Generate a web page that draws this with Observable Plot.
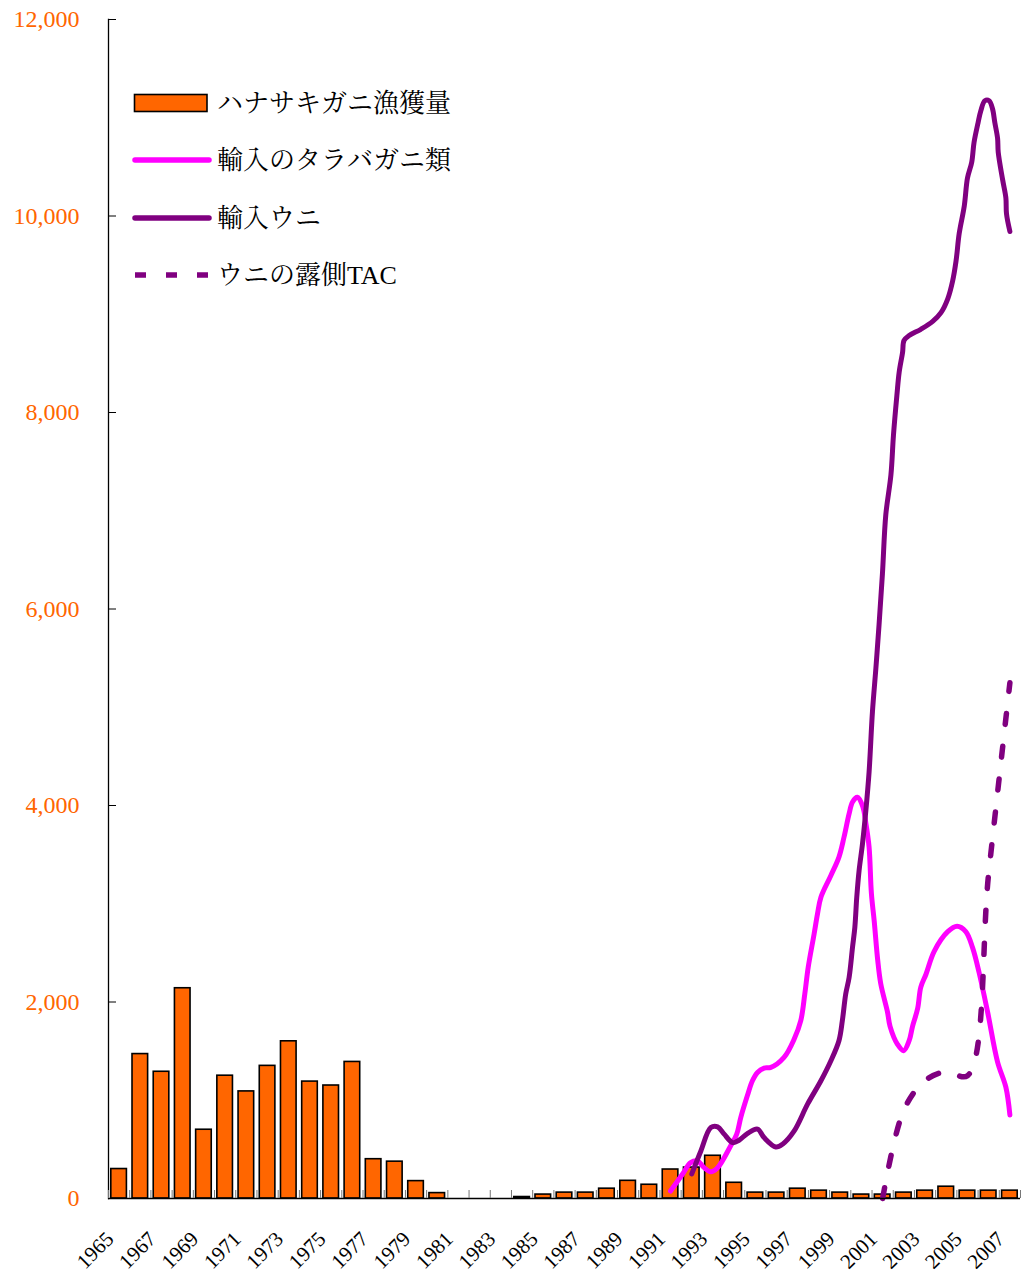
<!DOCTYPE html>
<html><head><meta charset="utf-8">
<script src="https://cdn.jsdelivr.net/npm/d3@7"></script>
<script src="https://cdn.jsdelivr.net/npm/@observablehq/plot@0.6"></script>
<style>body{margin:0;background:#fff}</style>
</head><body><div id="chart"></div>
<script>
const serif = "'Liberation Serif','Times New Roman','Noto Serif CJK JP','Noto Sans CJK JP',serif";

// ハナサキガニ漁獲量 (annual bars)
const catchYears = d3.range(1965, 2008);
const catchValues = [300,1470,1290,2140,700,1250,1090,1350,1600,1190,1150,1390,400,375,177,55,0,0,0,15,
  40,60,60,100,180,140,295,315,435,160,60,60,100,80,60,40,40,60,80,120,80,80,80];

// 輸入のタラバガニ類 (traced sub-annual positions)
const kingT = [1991.0,1991.56,1991.95,1992.27,1992.58,1992.9,1993.22,1993.83,1994.12,1994.31,1994.62,1994.86,1995.1,1995.41,1995.73,1996.35,1996.83,1997.14,1997.33,1997.49,1997.77,1997.93,1998.09,1998.56,1998.94,1999.18,1999.42,1999.58,1999.81,2000.06,2000.21,2000.36,2000.47,2000.6,2000.77,2000.91,2001.23,2001.35,2001.7,2001.99,2002.25,2002.41,2002.65,2002.8,2003.04,2003.43,2004.07,2004.51,2004.92,2005.24,2005.55,2005.95,2006.42,2006.81,2007.0];
const kingV = [76,247,365,382,314,273,314,535,655,824,1045,1198,1283,1327,1334,1436,1623,1810,2082,2353,2694,2898,3067,3288,3475,3679,3917,4036,4083,3992,3818,3577,3105,2829,2421,2187,1897,1752,1569,1504,1606,1752,1933,2152,2280,2516,2716,2771,2716,2553,2298,1897,1388,1133,850];

// 輸入ウニ
const urchinT = [1992.0,1992.43,1992.9,1993.22,1993.53,1993.93,1994.23,1994.62,1995.1,1995.41,1995.96,1996.28,1996.83,1997.46,1998.09,1998.56,1998.94,1999.1,1999.26,1999.42,1999.58,1999.69,1999.78,1999.89,2000.05,2000.21,2000.36,2000.52,2000.68,2000.83,2000.99,2001.15,2001.39,2001.51,2001.67,2001.78,2001.94,2002.01,2002.25,2002.8,2003.36,2003.75,2004.07,2004.3,2004.46,2004.61,2004.85,2005.0,2005.2,2005.31,2005.5,2005.63,2005.82,2006.02,2006.18,2006.29,2006.42,2006.45,2006.66,2006.81,2006.84,2007.0];
const urchinV = [250,484,722,729,655,569,593,661,706,620,525,553,688,960,1198,1402,1606,1810,2082,2251,2557,2761,3067,3339,3611,3951,4338,4956,5393,5837,6357,6961,7363,7767,8170,8411,8613,8734,8783,8847,8927,9016,9157,9338,9540,9822,10104,10386,10548,10749,10950,11072,11173,11173,11092,10950,10789,10648,10366,10185,10023,9842];

// ウニの露側TAC
const tacYears = [2001,2002,2003,2004,2005,2006,2007];
const tacValues = [0,900,1200,1290,1250,3310,5250];

const yTicks = [0,2000,4000,6000,8000,10000,12000];
const xLabelYears = d3.range(1965, 2008, 2);
const bandEdges = d3.range(1964.5, 2008, 1);

const legendLabels = ["ハナサキガニ漁獲量","輸入のタラバガニ類","輸入ウニ","ウニの露側TAC"];

const bars = catchYears.map((year, i) => ({year, value: catchValues[i]})).filter(d => d.value > 0);
const king = kingT.map((t, i) => ({t, v: kingV[i]}));
const urchin = urchinT.map((t, i) => ({t, v: urchinV[i]}));
const tac = tacYears.map((t, i) => ({t, v: tacValues[i]}));

const chart = Plot.plot({
  width: 1028,
  height: 1282,
  marginLeft: 108,
  marginRight: 8,
  marginTop: 19,
  marginBottom: 84,
  style: {fontFamily: serif, background: "#fff"},
  x: {type: "linear", domain: [1964.5, 2007.5]},
  y: {domain: [0, 12000]},
  marks: [
    Plot.rectY(bars, {x1: d => d.year - 0.5, x2: d => d.year + 0.5, y: "value", insetLeft: 2.8, insetRight: 2.8,
      fill: "#FF6600", stroke: "#000", strokeWidth: 1.6}),
    Plot.line(king, {x: "t", y: "v", stroke: "#FF00FF", strokeWidth: 5, curve: "catmull-rom", strokeLinejoin: "round", strokeLinecap: "round"}),
    Plot.line(urchin, {x: "t", y: "v", stroke: "#800080", strokeWidth: 5, curve: "catmull-rom", strokeLinejoin: "round", strokeLinecap: "round"}),
    Plot.line(tac, {x: "t", y: "v", stroke: "#800080", strokeWidth: 5.5, strokeDasharray: "11,22", curve: "catmull-rom"}),
    Plot.ruleY([0], {stroke: "#000", strokeWidth: 1.5}),
    Plot.frame({anchor: "left", stroke: "#000", strokeWidth: 1.3}),
    Plot.axisY(yTicks, {tickSize: 8, dx: 8, tickFormat: () => "", label: null, stroke: "#000"}),
    Plot.axisY(yTicks, {tickSize: 0, tickPadding: 29, tickFormat: d3.format(","), label: null, color: "#FF6600", fontSize: 24, fontFamily: serif}),
    Plot.axisX(bandEdges, {tickSize: 8, dy: -8, tickFormat: () => "", label: null, stroke: "#777"}),
    Plot.axisX(xLabelYears, {tickSize: 0, tickPadding: 37, dx: -9, tickRotate: -45, tickFormat: d => String(d), label: null, fontSize: 21, fontFamily: serif, color: "#000"})
  ]
});

document.getElementById("chart").appendChild(chart);

// Legend drawn inside the plot area
const svg = d3.select(chart);
const lg = svg.append("g").attr("font-family", serif).attr("font-size", 26).attr("fill", "#000")
  .attr("text-anchor", "start");
const rowY = [103, 160, 218, 275];
lg.append("rect").attr("x", 134.5).attr("y", 94.5).attr("width", 72.5).attr("height", 17)
  .attr("fill", "#FF6600").attr("stroke", "#000").attr("stroke-width", 1.6);
lg.append("line").attr("x1", 135).attr("x2", 209).attr("y1", rowY[1]).attr("y2", rowY[1])
  .attr("stroke", "#FF00FF").attr("stroke-width", 5.5).attr("stroke-linecap", "round");
lg.append("line").attr("x1", 135).attr("x2", 209).attr("y1", rowY[2]).attr("y2", rowY[2])
  .attr("stroke", "#800080").attr("stroke-width", 5.5).attr("stroke-linecap", "round");
lg.append("line").attr("x1", 135).attr("x2", 209).attr("y1", rowY[3]).attr("y2", rowY[3])
  .attr("stroke", "#800080").attr("stroke-width", 5.5).attr("stroke-dasharray", "11,20");
legendLabels.forEach((t, i) => {
  lg.append("text").attr("x", 217).attr("y", rowY[i]).attr("dy", "0.36em").attr("text-anchor", "start").text(t);
});
</script>
</body></html>
